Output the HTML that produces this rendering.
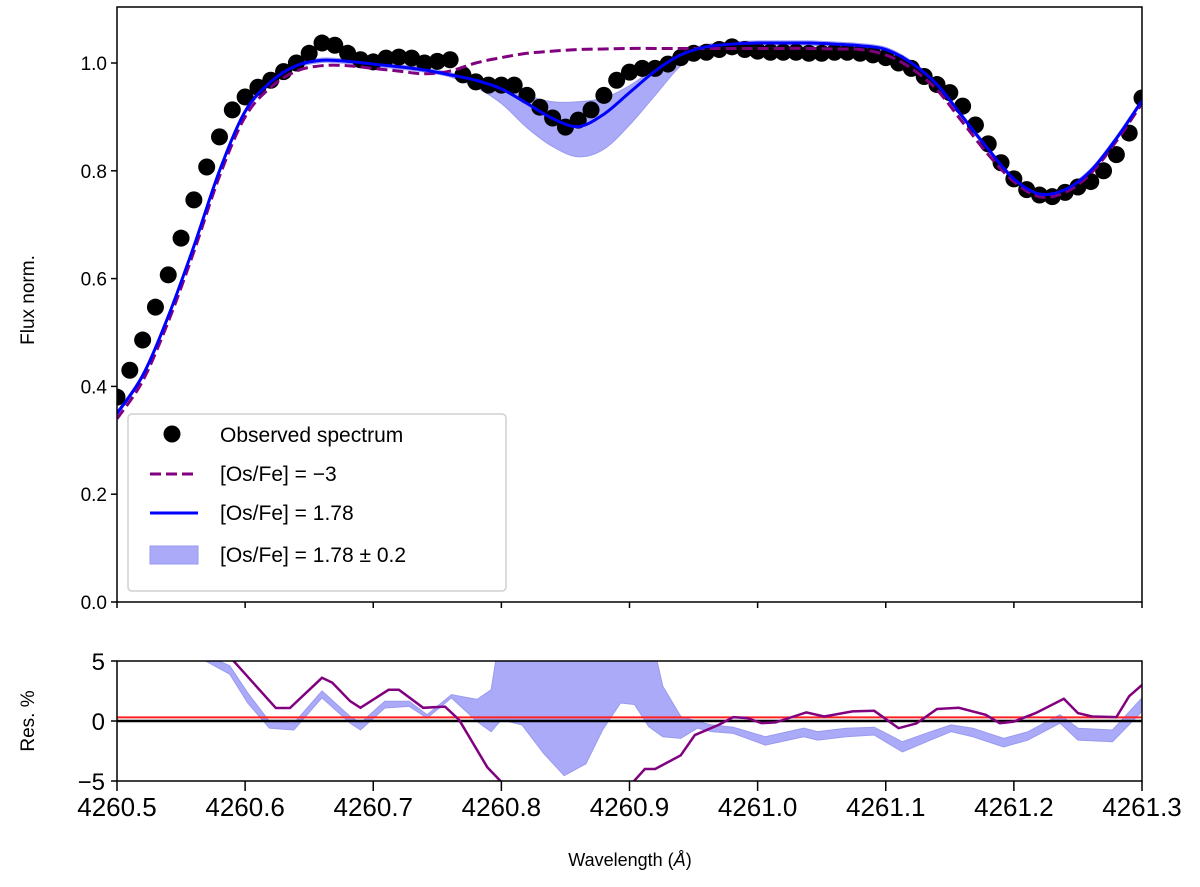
<!DOCTYPE html>
<html><head><meta charset="utf-8"><style>
body{margin:0;background:#fff;}
svg{display:block;font-family:"Liberation Sans","DejaVu Sans",sans-serif;}
</style></head><body>
<svg id="c" width="1200" height="887" viewBox="0 0 1200 887">
<defs>
<clipPath id="cpMain"><rect x="117" y="7" width="1025" height="595"/></clipPath>
<clipPath id="cpRes"><rect x="117" y="661" width="1025" height="120"/></clipPath>
</defs>
<g id="main"></g>
<g id="res"></g>
</svg>
<script>
// ---- data ----
const obsX = [];
for (let i = 0; i <= 80; i++) obsX.push(+(4260.5 + i * 0.01).toFixed(2));
const obsFlux = [0.38,0.43,0.486,0.547,0.607,0.675,0.746,0.807,0.863,0.913,0.937,0.955,0.968,0.984,1.0,1.018,1.037,1.033,1.018,1.006,1.002,1.009,1.011,1.009,1.0,1.003,1.006,0.978,0.965,0.959,0.959,0.959,0.94,0.918,0.898,0.881,0.894,0.913,0.94,0.968,0.983,0.99,0.99,0.998,1.01,1.018,1.02,1.025,1.03,1.025,1.022,1.02,1.02,1.02,1.018,1.018,1.02,1.02,1.018,1.015,1.01,1.0,0.99,0.975,0.96,0.945,0.92,0.885,0.85,0.815,0.785,0.765,0.755,0.752,0.76,0.77,0.78,0.8,0.83,0.87,0.935];
const modX = [];
for (let i = 0; i <= 40; i++) modX.push(+(4260.5 + i * 0.02).toFixed(2));
const modelBest = [0.35,0.42,0.53,0.66,0.80,0.91,0.965,0.995,1.005,1.003,0.998,0.993,0.987,0.978,0.968,0.952,0.925,0.897,0.882,0.905,0.945,0.985,1.015,1.03,1.035,1.037,1.037,1.037,1.035,1.032,1.025,1.0,0.96,0.9,0.84,0.785,0.757,0.765,0.8,0.86,0.93];
const modelLow = [0.34,0.41,0.52,0.65,0.79,0.9,0.955,0.985,0.995,0.995,0.99,0.985,0.98,0.985,1.0,1.01,1.018,1.022,1.025,1.026,1.027,1.027,1.027,1.027,1.027,1.027,1.027,1.027,1.026,1.025,1.015,0.99,0.95,0.89,0.83,0.78,0.752,0.76,0.795,0.855,0.925];
const bandUpper = [0.354,0.424,0.534,0.664,0.804,0.914,0.969,0.999,1.009,1.007,1.002,0.997,0.991,0.982,0.972,0.96,0.94,0.928,0.928,0.935,0.958,0.99,1.02,1.034,1.039,1.041,1.041,1.041,1.039,1.036,1.029,1.004,0.964,0.904,0.844,0.789,0.761,0.769,0.804,0.864,0.934];
const bandLower = [0.346,0.416,0.526,0.656,0.796,0.906,0.961,0.991,1.001,0.999,0.994,0.989,0.983,0.974,0.955,0.925,0.88,0.845,0.826,0.84,0.885,0.94,0.995,1.026,1.031,1.033,1.033,1.033,1.031,1.028,1.021,0.996,0.956,0.896,0.836,0.781,0.753,0.761,0.796,0.856,0.926];
const resX = [4260.585,4260.591,4260.624,4260.635,4260.660,4260.668,4260.682,4260.690,4260.712,4260.720,4260.739,4260.756,4260.767,4260.789,4260.802,4260.901,4260.912,4260.920,4260.940,4260.951,4260.970,4260.981,4260.992,4261.003,4261.014,4261.038,4261.052,4261.074,4261.091,4261.110,4261.124,4261.140,4261.157,4261.178,4261.189,4261.200,4261.217,4261.239,4261.250,4261.261,4261.280,4261.290,4261.300];
const resLowModel = [6,5,1.08,1.08,3.6,3.2,1.65,1.1,2.6,2.6,1.1,1.2,0.1,-3.85,-5.3,-5.3,-4,-4,-2.86,-1.17,-0.3,0.32,0.24,-0.18,-0.12,0.72,0.38,0.8,0.85,-0.6,-0.2,1.0,1.1,0.52,-0.18,-0.05,0.66,1.85,0.66,0.38,0.32,2.07,3.0];
const resBandX = [4260.569,4260.588,4260.602,4260.619,4260.638,4260.660,4260.682,4260.690,4260.709,4260.728,4260.742,4260.761,4260.781,4260.792,4260.800,4260.816,4260.833,4260.849,4260.866,4260.879,4260.893,4260.904,4260.915,4260.926,4260.940,4260.953,4260.964,4260.981,4261.006,4261.036,4261.047,4261.069,4261.091,4261.113,4261.135,4261.151,4261.168,4261.192,4261.211,4261.236,4261.250,4261.277,4261.300];
const resBandUpper = [5.5,4.6,2.35,-0.04,-0.18,2.5,0.38,-0.18,1.65,1.65,0.52,2.2,1.8,2.6,8,8,8,8,8,8,8,8,8,2.9,0.38,-0.04,-0.32,-0.52,-1.31,-0.6,-0.89,-0.6,-0.52,-1.73,-0.89,-0.32,-0.6,-1.45,-0.89,0.52,-0.6,-0.75,1.93];
const resBandLower = [5,3.9,1.5,-0.6,-0.75,1.93,-0.18,-0.75,1.08,1.22,0.24,1.93,-0.04,-0.89,0.1,-0.32,-2.7,-4.55,-3.56,-0.75,1.5,1.37,-0.47,-1.31,-1.45,-0.6,-0.89,-1.03,-2.01,-1.31,-1.59,-1.31,-1.17,-2.58,-1.59,-0.89,-1.31,-2.16,-1.59,-0.18,-1.59,-1.73,0.8];
const xTicks = [4260.5,4260.6,4260.7,4260.8,4260.9,4261.0,4261.1,4261.2,4261.3];
const xTickLabels = ["4260.5","4260.6","4260.7","4260.8","4260.9","4261.0","4261.1","4261.2","4261.3"];
const yTicks = [0,0.2,0.4,0.6,0.8,1.0];
const yTickLabels = ["0.0","0.2","0.4","0.6","0.8","1.0"];
const rTicks = [5,0,-5];
const rTickLabels = ["5","0","\u22125"];

// ---- axes ----
const L=117,R=1142;
const X = v => L + (v-4260.5)/0.8*(R-L);
const Y = v => 602 - v*539;
const RY = v => 721 - v*12;
const NS="http://www.w3.org/2000/svg";
function mk(parent, tag, attrs){const e=document.createElementNS(NS,tag);for(const k in attrs)e.setAttribute(k,attrs[k]);parent.appendChild(e);return e;}
function smooth(xs, ys, fx, fy){
  const p=xs.map((x,i)=>[fx(x),fy(ys[i])]);
  let d=`M${p[0][0]},${p[0][1]}`;
  for(let i=0;i<p.length-1;i++){
    const p0=p[Math.max(0,i-1)],p1=p[i],p2=p[i+1],p3=p[Math.min(p.length-1,i+2)];
    d+=`C${p1[0]+(p2[0]-p0[0])/6},${p1[1]+(p2[1]-p0[1])/6} ${p2[0]-(p3[0]-p1[0])/6},${p2[1]-(p3[1]-p1[1])/6} ${p2[0]},${p2[1]}`;
  }
  return d;
}
function lin(xs, ys, fx, fy){return xs.map((x,i)=>(i?'L':'M')+fx(x)+','+fy(ys[i])).join('');}
const main=document.getElementById('main'), res=document.getElementById('res');

// main plot
const gm=mk(main,'g',{'clip-path':'url(#cpMain)'});
let bandD = smooth(modX,bandUpper,X,Y);
const lowRev = smooth(modX.slice().reverse(), bandLower.slice().reverse(), X, Y).replace(/^M/,'L');
const band=mk(gm,'path',{d:bandD+lowRev+'Z',fill:'#aaaaf8',stroke:'#9a9af0','stroke-width':1});


obsX.forEach((x,i)=>{
  const c=mk(gm,'circle',{cx:X(x),cy:Y(obsFlux[i]),r:8.5,fill:'#000'});
  
  
});
const pl=mk(gm,'path',{d:smooth(modX,modelLow,X,Y),fill:'none',stroke:'#800080','stroke-width':3,'stroke-dasharray':'11,5'});


const bl=mk(gm,'path',{d:smooth(modX,modelBest,X,Y),fill:'none',stroke:'#0000ff','stroke-width':3});


const fr=mk(main,'rect',{x:L,y:7,width:R-L,height:595,fill:'none',stroke:'#000','stroke-width':1.5});


yTicks.forEach((v,i)=>{
  mk(main,'line',{x1:L-6,x2:L,y1:Y(v),y2:Y(v),stroke:'#000','stroke-width':1.5});
  const t=mk(main,'text',{x:L-10,y:Y(v)+7,'text-anchor':'end','font-size':19,fill:'#000'});
  t.textContent=yTickLabels[i];
  
  
});
xTicks.forEach(v=>mk(main,'line',{x1:X(v),x2:X(v),y1:602,y2:608,stroke:'#000','stroke-width':1.5}));
const yl=mk(main,'text',{x:0,y:0,transform:'translate(34,300) rotate(-90)','text-anchor':'middle','font-size':19});
yl.textContent='Flux norm.';



// legend
const lg=mk(main,'g',{});


mk(lg,'rect',{x:128,y:414,width:378,height:177,rx:4,fill:'#fff','fill-opacity':0.85,stroke:'#d0d0d0','stroke-width':1.5});
mk(lg,'circle',{cx:172,cy:434,r:8.5,fill:'#000'});
mk(lg,'line',{x1:150,x2:198,y1:474,y2:474,stroke:'#800080','stroke-width':3,'stroke-dasharray':'11,5'});
mk(lg,'line',{x1:150,x2:198,y1:513,y2:513,stroke:'#0000ff','stroke-width':3});
mk(lg,'rect',{x:150,y:546,width:48,height:18,fill:'#aaaaf8',stroke:'#9a9af0'});
[['Observed spectrum',442],['[Os/Fe] = \u22123',481],['[Os/Fe] = 1.78',520],['[Os/Fe] = 1.78 \u00b1 0.2',562]].forEach(([s,y])=>{
  const t=mk(lg,'text',{x:220,y:y,'font-size':21,fill:'#000'});
  t.textContent=s;
  
  
});

// residual panel
const gr=mk(res,'g',{'clip-path':'url(#cpRes)'});
const rb = lin(resBandX,resBandUpper,X,RY) + lin(resBandX.slice().reverse(),resBandLower.slice().reverse(),X,RY).replace(/^M/,'L') + 'Z';
const rbp=mk(gr,'path',{d:rb,fill:'#aaaaf8',stroke:'#9a9af0','stroke-width':1});


mk(gr,'line',{x1:L,x2:R,y1:RY(0.3),y2:RY(0.3),stroke:'#ff2020','stroke-width':2});
mk(gr,'line',{x1:L,x2:R,y1:RY(0),y2:RY(0),stroke:'#000','stroke-width':2.5});
const rl=mk(gr,'path',{d:lin(resX,resLowModel,X,RY),fill:'none',stroke:'#800080','stroke-width':2.5});


mk(res,'rect',{x:L,y:661,width:R-L,height:120,fill:'none',stroke:'#000','stroke-width':1.5});
rTicks.forEach((v,i)=>{
  mk(res,'line',{x1:L-6,x2:L,y1:RY(v),y2:RY(v),stroke:'#000','stroke-width':1.5});
  const t=mk(res,'text',{x:L-12,y:RY(v)+9,'text-anchor':'end','font-size':24});
  t.textContent=rTickLabels[i];
  
  
});
xTicks.forEach((v,i)=>{
  mk(res,'line',{x1:X(v),x2:X(v),y1:781,y2:791,stroke:'#000','stroke-width':1.5});
  const t=mk(res,'text',{x:X(v),y:816,'text-anchor':'middle','font-size':26});
  t.textContent=xTickLabels[i];
  
  
});
const rlab=mk(res,'text',{x:0,y:0,transform:'translate(34,721) rotate(-90)','text-anchor':'middle','font-size':19});
rlab.textContent='Res. %';


const xl=mk(res,'text',{x:630,y:866,'text-anchor':'middle','font-size':18});
xl.innerHTML='Wavelength (<tspan font-style="italic">Å</tspan>)';


</script>
</body></html>
